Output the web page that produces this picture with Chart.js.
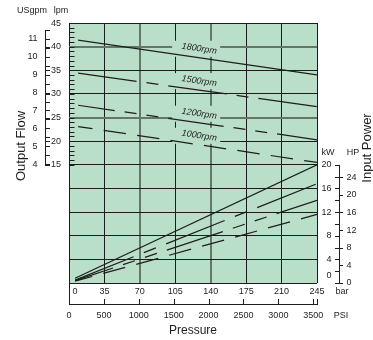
<!DOCTYPE html>
<html>
<head>
<meta charset="utf-8">
<script src="https://cdn.jsdelivr.net/npm/chart.js@4.4.1/dist/chart.umd.min.js"></script>
<style>
  html, body { margin: 0; padding: 0; background: #fff; }
  #chart { display: block; }
</style>
</head>
<body>
<canvas id="chart" width="373" height="340"></canvas>
<script>
(function () {
  'use strict';

  // pressure (bar) -> flow (lpm)
  var flowBar = [9, 245];
  var flow1800 = [41.4, 34.0];
  var flow1500 = [34.4, 27.3];
  var flow1200 = [27.6, 20.3];
  var flow1000 = [23.1, 15.5];

  // pressure (bar) -> input power (kW)
  var powerBar = [6, 245];
  var power1800 = [0.8, 20.0];
  var power1500 = [0.5, 16.8];
  var power1200 = [0.4, 14.0];
  var power1000 = [0.3, 11.6];

  var speeds = ['1800rpm', '1500rpm', '1200rpm', '1000rpm'];

  var barTicks = [0, 35, 70, 105, 140, 175, 210, 245];
  var psiTicks = [0, 500, 1000, 1500, 2000, 2500, 3000, 3500];
  var lpmTicks = [15, 20, 25, 30, 35, 40, 45];
  var gpmTicks = [4, 5, 6, 7, 8, 9, 10, 11];
  var kwTicks = [0, 4, 8, 12, 16, 20];
  var hpTicks = [0, 4, 8, 12, 16, 20, 24];

  var LPM_PER_GPM = 3.78541;
  var PSI_PER_BAR = 14.5038;
  var HP_PER_KW = 1.341;

  var FONT = '"Liberation Sans", Arial, sans-serif';
  var INK = '#1e1e1e';
  var GRID_DARK = '#1c1c1c';
  var GRID_GRAY = '#66756c';
  var PLOT_BG = '#badfc9';

  var flowDash = [[], [59, 10, 12, 10], [56, 10, 12, 10, 12, 10], [22.5, 11.3]];
  var flowDashOffset = [0, 0, 19, 8];
  var powerDash = [[], [63, 11, 13, 11], [59, 10.5, 12.6, 10.5, 12.6, 10.5], [22.8, 11.4]];
  var powerDashOffset = [0, 0, 19, 5];

  function points(xs, ys) {
    return xs.map(function (x, i) {
      return { x: x, y: ys[i] };
    });
  }

  function lineSet(label, data, axis, dash, offset) {
    return {
      label: label,
      data: data,
      yAxisID: axis,
      borderColor: INK,
      borderWidth: 1.25,
      borderDash: dash,
      borderDashOffset: offset,
      pointRadius: 0,
      fill: false,
      tension: 0,
    };
  }

  var flows = [flow1800, flow1500, flow1200, flow1000];
  var powers = [power1800, power1500, power1200, power1000];
  var datasets = [];
  flows.forEach(function (f, i) {
    datasets.push(lineSet(speeds[i], points(flowBar, f), 'y', flowDash[i], flowDashOffset[i]));
  });
  powers.forEach(function (p, i) {
    datasets.push(lineSet(speeds[i] + ' kW', points(powerBar, p), 'yP', powerDash[i], powerDashOffset[i]));
  });

  function text(ctx, str, x, y, align, size) {
    ctx.font = (size || 9) + 'px ' + FONT;
    ctx.textAlign = align || 'center';
    ctx.textBaseline = 'middle';
    ctx.fillText(str, x, y);
  }

  function hline(ctx, x1, x2, y) {
    ctx.beginPath();
    ctx.moveTo(x1, Math.round(y) + 0.5);
    ctx.lineTo(x2, Math.round(y) + 0.5);
    ctx.stroke();
  }

  function vline(ctx, x, y1, y2) {
    ctx.beginPath();
    ctx.moveTo(Math.round(x) + 0.5, y1);
    ctx.lineTo(Math.round(x) + 0.5, y2);
    ctx.stroke();
  }

  var decorations = {
    id: 'decorations',
    beforeDraw: function (chart) {
      var a = chart.chartArea;
      var ctx = chart.ctx;
      ctx.save();
      ctx.fillStyle = PLOT_BG;
      ctx.fillRect(a.left, a.top, a.right - a.left, a.bottom - a.top);
      ctx.restore();
    },
    beforeDatasetsDraw: function (chart) {
      var ctx = chart.ctx;
      var xs = chart.scales.x;
      var ys = chart.scales.y;
      var a = chart.chartArea;
      ctx.save();
      // minor lpm ticks inside the plot
      ctx.strokeStyle = INK;
      ctx.lineWidth = 1;
      for (var v = 15; v <= 45; v++) {
        hline(ctx, a.left, a.left + 5.5, ys.getPixelForValue(v));
      }
      // speed labels above each flow line
      var cx = xs.getPixelForValue(128.6);
      for (var i = 0; i < speeds.length; i++) {
        var pts = chart.getDatasetMeta(i).data;
        var p0 = pts[0];
        var p1 = pts[pts.length - 1];
        var k = (p1.y - p0.y) / (p1.x - p0.x);
        var cy = p0.y + (cx - p0.x) * k - 9;
        ctx.fillStyle = PLOT_BG;
        ctx.fillRect(cx - 27, cy - 8, 48, 16);
        ctx.save();
        ctx.translate(cx, cy);
        ctx.rotate(Math.atan(k));
        ctx.fillStyle = INK;
        ctx.font = 'italic 9px ' + FONT;
        ctx.textAlign = 'center';
        ctx.textBaseline = 'middle';
        ctx.fillText(speeds[i], 0, 0);
        ctx.restore();
      }
      ctx.restore();
    },
    afterDraw: function (chart) {
      var ctx = chart.ctx;
      var xs = chart.scales.x;
      var ys = chart.scales.y;
      var yp = chart.scales.yP;
      var a = chart.chartArea;
      ctx.save();
      ctx.strokeStyle = INK;
      ctx.fillStyle = INK;
      ctx.lineWidth = 1;

      // left flow axis: USgpm on the left, lpm on the right
      var axL = 45;
      vline(ctx, axL, ys.getPixelForValue(11.5 * LPM_PER_GPM), ys.getPixelForValue(15) + 1);
      for (var g = 4; g <= 11.5; g += 0.5) {
        hline(ctx, axL, axL + 5, ys.getPixelForValue(g * LPM_PER_GPM));
      }
      gpmTicks.forEach(function (g) {
        text(ctx, String(g), 37.5, ys.getPixelForValue(g * LPM_PER_GPM), 'right');
      });
      lpmTicks.forEach(function (l) {
        var y = ys.getPixelForValue(l);
        if (l < 45) {
          hline(ctx, axL, axL + 5, y);
        }
        text(ctx, String(l), 51, y + (l === 45 ? 1 : 0), 'left');
      });
      text(ctx, 'USgpm', 32, 11, 'center');
      text(ctx, 'lpm', 61, 11, 'center');

      // right power axis: kW on the left, HP on the right
      var axR = 339;
      vline(ctx, axR, yp.getPixelForValue(20), yp.getPixelForValue(0) + 1);
      for (var kw = 0; kw <= 20; kw += 2) {
        hline(ctx, axR - 4, axR, yp.getPixelForValue(kw));
      }
      for (var hp = 0; hp <= 26; hp += 4) {
        hline(ctx, axR, axR + 4, yp.getPixelForValue(hp / HP_PER_KW));
      }
      kwTicks.forEach(function (k) {
        var y = yp.getPixelForValue(k);
        text(ctx, String(k), 331.5, k === 0 ? y - 7 : y, 'right');
      });
      hpTicks.forEach(function (h) {
        text(ctx, String(h), 346.5, yp.getPixelForValue(h / HP_PER_KW), 'left');
      });
      text(ctx, 'kW', 328, 153, 'center');
      text(ctx, 'HP', 353, 153, 'center');

      // bottom pressure axes: bar row and PSI scale
      barTicks.forEach(function (b) {
        var x = xs.getPixelForValue(b);
        text(ctx, String(b), b === 0 ? x + 6 : x, 292, 'center');
      });
      text(ctx, 'bar', 342, 292, 'center');
      var base = 304;
      vline(ctx, a.left, a.bottom, base + 1);
      hline(ctx, a.left, a.right + 1, base);
      psiTicks.forEach(function (p) {
        var x = xs.getPixelForValue(p / PSI_PER_BAR);
        if (p > 0) {
          vline(ctx, x, base - 5, base);
        }
        text(ctx, String(p), x, 315.5, 'center');
      });
      vline(ctx, a.right, base - 5, base);
      text(ctx, 'PSI', 341, 315.5, 'center');

      // axis titles
      text(ctx, 'Pressure', 193, 331, 'center', 12);
      ctx.save();
      ctx.translate(21, 146);
      ctx.rotate(-Math.PI / 2);
      text(ctx, 'Output Flow', 0, 0, 'center', 13);
      ctx.restore();
      ctx.save();
      ctx.translate(367, 148);
      ctx.rotate(-Math.PI / 2);
      text(ctx, 'Input Power', 0, 0, 'center', 13);
      ctx.restore();

      ctx.restore();
    },
  };

  function gridColor(grayValues) {
    return function (c) {
      return c.tick && grayValues.indexOf(c.tick.value) >= 0 ? GRID_GRAY : GRID_DARK;
    };
  }

  function gridWidth(grayValues) {
    return function (c) {
      return c.tick && grayValues.indexOf(c.tick.value) >= 0 ? 2 : 1;
    };
  }

  new Chart(document.getElementById('chart').getContext('2d'), {
    type: 'line',
    data: { datasets: datasets },
    plugins: [decorations],
    options: {
      responsive: false,
      devicePixelRatio: 1,
      animation: false,
      layout: { padding: { left: 69, top: 23, right: 56, bottom: 57 } },
      plugins: {
        legend: { display: false },
        tooltip: { enabled: false },
      },
      scales: {
        x: {
          type: 'linear',
          min: 0,
          max: 245,
          ticks: { display: false, stepSize: 35, maxTicksLimit: 100 },
          grid: { drawTicks: false, color: gridColor([70, 140]), lineWidth: gridWidth([70, 140]) },
          border: { display: false },
        },
        y: {
          type: 'linear',
          min: -10,
          max: 45,
          ticks: { display: false, stepSize: 5, maxTicksLimit: 100 },
          grid: { drawTicks: false, color: gridColor([40, 25]), lineWidth: gridWidth([40, 25]) },
          border: { display: false },
        },
        yP: {
          type: 'linear',
          min: 0,
          max: 44,
          display: false,
        },
      },
    },
  });
})();
</script>
</body>
</html>
